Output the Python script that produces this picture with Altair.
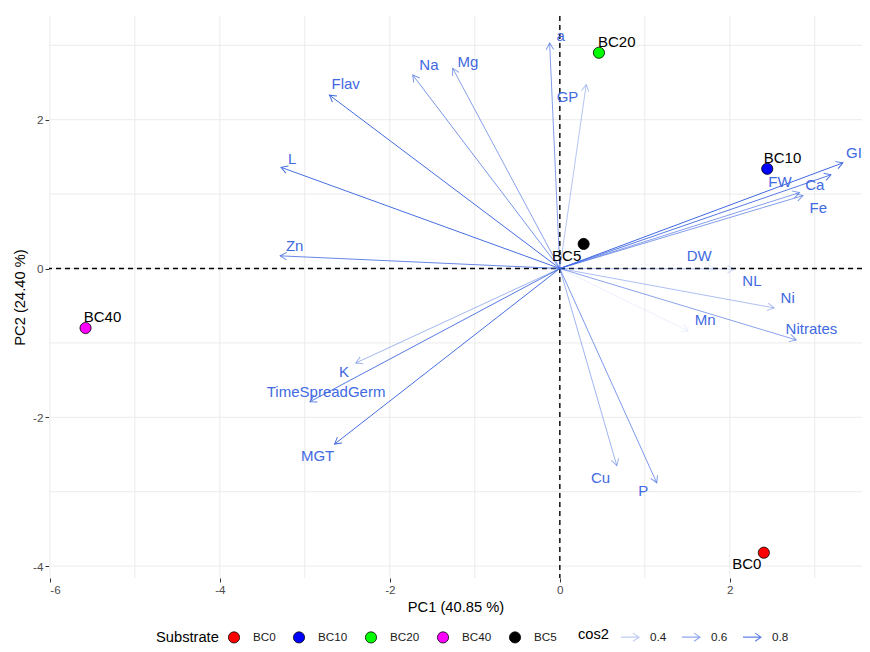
import math
import altair as alt
import pandas as pd

# ---------------- data ----------------
variables = ["a", "GP", "Mg", "Na", "Flav", "L", "Zn", "K", "TimeSpreadGerm", "MGT",
             "Cu", "P", "Mn", "Nitrates", "Ni", "NL", "DW", "GI", "Ca", "FW", "Fe"]
var_pc1 = [-0.12, 0.31, -1.26, -1.73, -2.71, -3.28, -3.29, -2.40, -2.94, -2.65,
           0.67, 1.14, 1.51, 2.78, 2.52, 2.05, 1.82, 3.33, 3.19, 2.82, 2.86]
var_pc2 = [3.03, 2.47, 2.69, 2.60, 2.33, 1.36, 0.17, -1.27, -1.79, -2.36,
           -2.65, -2.88, -0.84, -0.96, -0.53, -0.01, 0.00, 1.42, 1.26, 1.02, 0.98]
var_cos2 = [0.65, 0.44, 0.63, 0.69, 0.91, 0.90, 0.77, 0.52, 0.84, 0.90,
            0.53, 0.68, 0.21, 0.62, 0.47, 0.30, 0.24, 0.93, 0.84, 0.64, 0.65]
# repelled label positions (data units)
var_lab_pc1 = [0.01, 0.09, -1.08, -1.54, -2.52, -3.15, -3.12, -2.54, -2.75, -2.85,
               0.48, 0.98, 1.71, 2.96, 2.68, 2.26, 1.64, 3.46, 3.00, 2.59, 3.04]
var_lab_pc2 = [3.13, 2.30, 2.78, 2.74, 2.48, 1.47, 0.30, -1.39, -1.66, -2.52,
               -2.82, -2.99, -0.69, -0.81, -0.40, -0.17, 0.17, 1.55, 1.12, 1.16, 0.81]

substrates = ["BC0", "BC10", "BC20", "BC40", "BC5"]
ind_pc1 = [2.40, 2.44, 0.46, -5.58, 0.28]
ind_pc2 = [-3.82, 1.34, 2.90, -0.80, 0.33]
ind_lab_pc1 = [2.20, 2.62, 0.67, -5.38, 0.08]
ind_lab_pc2 = [-3.97, 1.48, 3.04, -0.65, 0.17]
substrate_colors = ["#FF0000", "#0000FF", "#00FF00", "#FF00FF", "#000000"]

x_ticks = [-6, -4, -2, 0, 2]
y_ticks = [-4, -2, 0, 2]
x_grid = [-6, -5, -4, -3, -2, -1, 0, 1, 2, 3]
y_grid = [-4, -3, -2, -1, 0, 1, 2, 3]
cos2_breaks = [0.4, 0.6, 0.8]

# ---------------- layout ----------------
W, H = 813, 562
XDOM = [-6.01, 3.555]
YDOM = [-4.16, 3.394]
kx = W / (XDOM[1] - XDOM[0])
ky = H / (YDOM[1] - YDOM[0])
BLUE = "#4169E1"
FONT = "Liberation Sans"

xs = alt.Scale(domain=XDOM, nice=False, zero=False)
ys = alt.Scale(domain=YDOM, nice=False, zero=False)
ops = alt.Scale(domain=[min(var_cos2), max(var_cos2)], range=[0.1, 1.0])

vars_df = pd.DataFrame({
    "var": variables, "pc1": var_pc1, "pc2": var_pc2, "cos2": var_cos2,
    "lx": var_lab_pc1, "ly": var_lab_pc2,
})
vars_df["x0"] = 0.0
vars_df["y0"] = 0.0
vars_df["angle"] = [
    (math.degrees(math.atan2(a * kx, b * ky)) + 360) % 360
    for a, b in zip(var_pc1, var_pc2)
]

ind_df = pd.DataFrame({
    "Substrate": substrates, "pc1": ind_pc1, "pc2": ind_pc2,
    "lx": ind_lab_pc1, "ly": ind_lab_pc2,
})

xgrid_df = pd.DataFrame({"v": x_grid})
ygrid_df = pd.DataFrame({"v": y_grid})
zero_df = pd.DataFrame({"v": [0]})

x_axis = alt.Axis(values=x_ticks, labelExpr="'' + datum.value", grid=False, domain=False,
                  tickColor="#333333", tickSize=4, labelColor="#4d4d4d", labelFontSize=11.7,
                  labelPadding=2, title="PC1 (40.85 %)", titleFontSize=14.7,
                  titleFontWeight="normal", titleColor="#000000", titlePadding=4,
                  labelFont=FONT, titleFont=FONT)
y_axis = alt.Axis(values=y_ticks, labelExpr="'' + datum.value", grid=False, domain=False,
                  tickColor="#333333", tickSize=4, labelColor="#4d4d4d", labelFontSize=11.7,
                  labelPadding=2, title="PC2 (24.40 %)", titleFontSize=14.7,
                  titleFontWeight="normal", titleColor="#000000", titlePadding=5,
                  labelFont=FONT, titleFont=FONT)

# grid
gx = alt.Chart(xgrid_df).mark_rule(color="#ebebeb", strokeWidth=1.0).encode(
    x=alt.X("v:Q", scale=xs, axis=x_axis))
gy = alt.Chart(ygrid_df).mark_rule(color="#ebebeb", strokeWidth=1.0).encode(
    y=alt.Y("v:Q", scale=ys, axis=y_axis))

# dashed zero lines
zx = alt.Chart(zero_df).mark_rule(color="#000000", strokeWidth=1.4, strokeDash=[5, 4]).encode(
    x=alt.X("v:Q", scale=xs))
zy = alt.Chart(zero_df).mark_rule(color="#000000", strokeWidth=1.4, strokeDash=[5, 4]).encode(
    y=alt.Y("v:Q", scale=ys))

opacity_legend = alt.Legend(
    title="cos2", orient="none", legendX=529, legendY=611, direction="horizontal",
    titleOrient="left", values=cos2_breaks, symbolType="M -1 0 L 1 0 M 0.35 -0.45 L 1 0 L 0.35 0.45",
    symbolSize=324, symbolStrokeColor=BLUE, symbolFillColor="transparent",
    symbolStrokeWidth=1.1, labelOffset=10, columnPadding=12, titlePadding=10,
    labelFontSize=11.7, titleFontSize=14.7, titleFontWeight="normal",
    labelFont=FONT, titleFont=FONT, labelColor="#1a1a1a", titleColor="#000000",
    titleBaseline="middle", titleAnchor="middle",
)

arrows = alt.Chart(vars_df).mark_rule(color=BLUE, strokeWidth=1.0).encode(
    x=alt.X("x0:Q", scale=xs), y=alt.Y("y0:Q", scale=ys),
    x2="pc1:Q", y2="pc2:Q",
    opacity=alt.Opacity("cos2:Q", scale=ops, legend=opacity_legend),
)
heads = alt.Chart(vars_df).mark_point(
    shape="M -0.5 0.866 L 0 0 L 0.5 0.866", filled=False, size=225,
    color=BLUE, strokeWidth=1.0,
).encode(
    x=alt.X("pc1:Q", scale=xs), y=alt.Y("pc2:Q", scale=ys),
    angle=alt.Angle("angle:Q", scale=None),
    opacity=alt.Opacity("cos2:Q", scale=ops, legend=opacity_legend),
)
var_text = alt.Chart(vars_df).mark_text(
    color=BLUE, fontSize=15, font=FONT, align="center", baseline="middle"
).encode(x=alt.X("lx:Q", scale=xs), y=alt.Y("ly:Q", scale=ys), text="var:N")

points = alt.Chart(ind_df).mark_point(
    filled=True, size=125, stroke="#000000", strokeWidth=0.8, opacity=1
).encode(
    x=alt.X("pc1:Q", scale=xs), y=alt.Y("pc2:Q", scale=ys),
    fill=alt.Fill("Substrate:N", scale=alt.Scale(domain=substrates, range=substrate_colors),
                  legend=alt.Legend(
                      title="Substrate", orient="none", legendX=107, legendY=615,
                      direction="horizontal", titleOrient="left", symbolType="circle",
                      symbolSize=125, symbolStrokeColor="#000000", symbolStrokeWidth=0.8,
                      labelOffset=13, columnPadding=15, titlePadding=9,
                      labelFontSize=11.7, titleFontSize=14.7, titleFontWeight="normal",
                      labelFont=FONT, titleFont=FONT, labelColor="#1a1a1a",
                      titleColor="#000000", titleBaseline="middle", titleAnchor="middle",
                  )),
)
ind_text = alt.Chart(ind_df).mark_text(
    color="#000000", fontSize=15, font=FONT, align="center", baseline="middle"
).encode(x=alt.X("lx:Q", scale=xs), y=alt.Y("ly:Q", scale=ys), text="Substrate:N")

chart = alt.layer(gx, gy, zx, zy, arrows, heads, var_text, points, ind_text).properties(
    width=W, height=H,
    autosize=alt.AutoSizeParams(type="none"),
    padding={"left": 41, "top": 8, "right": 0, "bottom": 66},
    background="#ffffff",
).configure_view(stroke=None)

chart.save("out.html", embed_options={"renderer": "svg", "actions": False})
